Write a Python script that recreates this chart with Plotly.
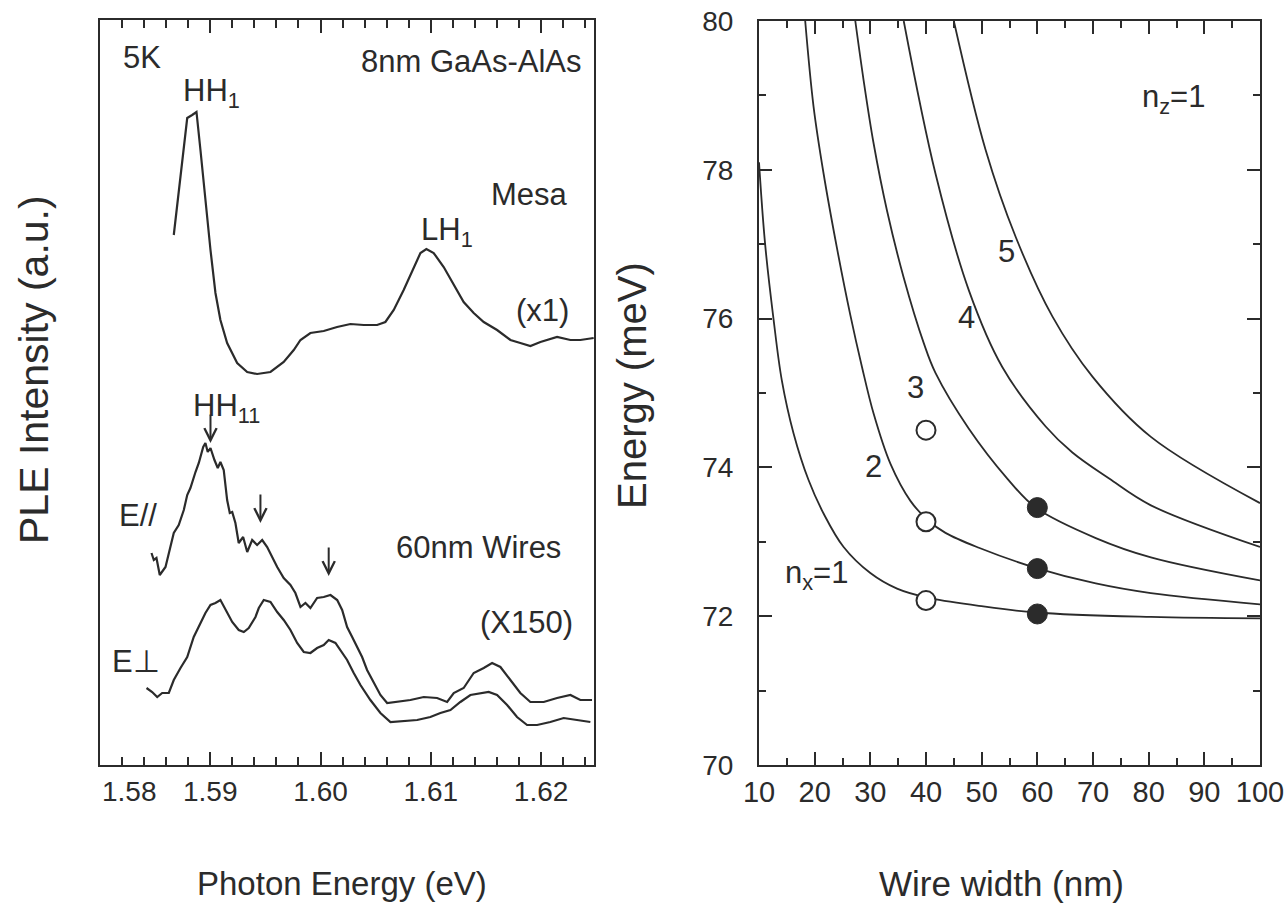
import plotly.graph_objects as go

# ---------------- Left panel: PLE spectra ----------------
mesa_e = [1.58669, 1.58730, 1.58791, 1.58836, 1.58875, 1.58911, 1.58956, 1.59002, 1.59047, 1.59092,
          1.59153, 1.59244, 1.59335, 1.59425, 1.59546, 1.59666, 1.59757, 1.59818, 1.59908, 1.60029,
          1.60150, 1.60271, 1.60392, 1.60513, 1.60588, 1.60664, 1.60754, 1.60845, 1.60906, 1.60960,
          1.61026, 1.61117, 1.61208, 1.61298, 1.61389, 1.61480, 1.61601, 1.61722, 1.61812, 1.61903,
          1.61994, 1.62145, 1.62266, 1.62356, 1.62477]
mesa_i = [5.30, 5.92, 6.47, 6.50, 6.53, 6.15, 5.65, 5.15, 4.72, 4.45,
          4.22, 4.02, 3.93, 3.91, 3.93, 4.03, 4.15, 4.25, 4.32, 4.34,
          4.38, 4.41, 4.40, 4.40, 4.43, 4.55, 4.75, 4.98, 5.12, 5.16,
          5.12, 4.98, 4.80, 4.63, 4.52, 4.43, 4.35, 4.25, 4.22, 4.19,
          4.23, 4.28, 4.25, 4.25, 4.27]

par_e = [1.58467, 1.58488, 1.58512, 1.58542, 1.58594, 1.58639, 1.58669, 1.58714, 1.58760, 1.58791,
         1.58820, 1.58866, 1.58896, 1.58936, 1.58956, 1.58977, 1.59002, 1.59038, 1.59068, 1.59092,
         1.59122, 1.59153, 1.59177, 1.59199, 1.59228, 1.59258, 1.59298, 1.59335, 1.59380, 1.59425,
         1.59471, 1.59516, 1.59561, 1.59607, 1.59666, 1.59727, 1.59772, 1.59818, 1.59863, 1.59908,
         1.59969, 1.60029, 1.60090, 1.60151, 1.60196, 1.60241, 1.60287, 1.60332, 1.60377, 1.60422,
         1.60482, 1.60543, 1.60604, 1.60695, 1.60815, 1.60936, 1.61057, 1.61148, 1.61208, 1.61298,
         1.61389, 1.61480, 1.61556, 1.61631, 1.61722, 1.61812, 1.61903, 1.62024, 1.62145, 1.62266,
         1.62356, 1.62462]
par_i = [2.12, 2.05, 2.07, 1.90, 1.98, 2.18, 2.32, 2.40, 2.55, 2.70,
         2.77, 2.93, 3.02, 3.18, 3.22, 3.13, 3.17, 3.05, 2.97, 3.03,
         2.95, 2.65, 2.52, 2.53, 2.42, 2.22, 2.28, 2.13, 2.25, 2.20,
         2.25, 2.18, 2.08, 1.98, 1.87, 1.80, 1.72, 1.58, 1.62, 1.57,
         1.67, 1.68, 1.70, 1.65, 1.55, 1.38, 1.28, 1.18, 1.08, 0.95,
         0.82, 0.70, 0.62, 0.63, 0.65, 0.68, 0.67, 0.63, 0.72, 0.77,
         0.92, 0.97, 1.02, 0.98, 0.85, 0.72, 0.63, 0.63, 0.67, 0.70,
         0.65, 0.65]

perp_e = [1.58422, 1.58473, 1.58519, 1.58564, 1.58624, 1.58669, 1.58730, 1.58791, 1.58850, 1.58911,
          1.58956, 1.59002, 1.59047, 1.59092, 1.59138, 1.59199, 1.59258, 1.59304, 1.59349, 1.59410,
          1.59440, 1.59485, 1.59546, 1.59607, 1.59666, 1.59727, 1.59788, 1.59848, 1.59908, 1.59969,
          1.60029, 1.60074, 1.60135, 1.60180, 1.60241, 1.60301, 1.60362, 1.60452, 1.60543, 1.60634,
          1.60754, 1.60876, 1.60996, 1.61087, 1.61178, 1.61268, 1.61359, 1.61450, 1.61525, 1.61601,
          1.61692, 1.61782, 1.61873, 1.61964, 1.62084, 1.62205, 1.62326, 1.62447]
perp_i = [0.77, 0.73, 0.68, 0.72, 0.72, 0.85, 0.97, 1.08, 1.28, 1.42,
          1.52, 1.60, 1.62, 1.65, 1.55, 1.43, 1.35, 1.33, 1.37, 1.48,
          1.57, 1.65, 1.63, 1.53, 1.45, 1.35, 1.22, 1.13, 1.12, 1.17,
          1.20, 1.25, 1.22, 1.15, 1.05, 0.92, 0.80, 0.65, 0.52, 0.43,
          0.44, 0.45, 0.48, 0.52, 0.55, 0.63, 0.70, 0.72, 0.73, 0.70,
          0.60, 0.48, 0.40, 0.40, 0.43, 0.47, 0.45, 0.43]

# arrow tips (photon energy, intensity)
arrow_e = [1.59002, 1.59455, 1.60074]
arrow_i = [3.22, 2.42, 1.89]

left_ticks = [1.58, 1.59, 1.60, 1.61, 1.62]
left_ticktext = ["", "1.59", "1.60", "1.61", "1.62"]

# ---------------- Right panel: subband energies ----------------
w_n1 = [10.0, 11.1, 12.6, 14.1, 16.2, 18.9, 21.6, 25.2, 30.0, 34.8, 40.2, 49.5, 59.7, 80.4, 100.0]
e_n1 = [78.1, 77.0, 76.0, 75.17, 74.46, 73.83, 73.38, 72.93, 72.58, 72.37, 72.25, 72.14, 72.05, 71.99, 71.97]

w_n2 = [18.3, 19.8, 21.6, 24.0, 26.4, 28.5, 30.6, 33.6, 37.2, 40.2, 43.5, 49.5, 59.7, 70.5, 80.4, 100.0]
e_n2 = [80.0, 78.85, 77.95, 76.95, 76.05, 75.35, 74.72, 74.05, 73.55, 73.30, 73.12, 72.92, 72.65, 72.44, 72.31, 72.16]

w_n3 = [27.3, 28.8, 30.6, 33.0, 36.0, 39.6, 41.7, 47.7, 54.6, 59.7, 70.5, 80.4, 100.0]
e_n3 = [80.0, 79.2, 78.35, 77.45, 76.55, 75.67, 75.27, 74.52, 73.85, 73.46, 73.05, 72.79, 72.48]

w_n4 = [36.0, 41.7, 47.7, 53.7, 61.5, 66.3, 72.9, 80.4, 100.0]
e_n4 = [80.0, 77.95, 76.38, 75.35, 74.55, 74.20, 73.85, 73.49, 72.93]

w_n5 = [45.0, 50.7, 56.1, 62.7, 69.9, 80.4, 100.0]
e_n5 = [80.0, 78.27, 77.10, 76.03, 75.22, 74.41, 73.52]

open_w = [40, 40, 40]
open_e = [74.50, 73.27, 72.21]
fill_w = [60, 60, 60]
fill_e = [73.46, 72.64, 72.03]

right_xticks = [10, 20, 30, 40, 50, 60, 70, 80, 90, 100]
right_yticks = [70, 72, 74, 76, 78, 80]

INK = "#2b2b2b"
FONT = "Liberation Sans, Arial, Helvetica, sans-serif"
W, H = 1287, 908

fig = go.Figure()

for xs, ys in [(mesa_e, mesa_i), (par_e, par_i), (perp_e, perp_i)]:
    fig.add_trace(go.Scatter(x=xs, y=ys, mode="lines", xaxis="x", yaxis="y",
                             line=dict(color=INK, width=2.2), hoverinfo="skip"))

for xs, ys in [(w_n1, e_n1), (w_n2, e_n2), (w_n3, e_n3), (w_n4, e_n4), (w_n5, e_n5)]:
    fig.add_trace(go.Scatter(x=xs, y=ys, mode="lines", xaxis="x2", yaxis="y2",
                             line=dict(color=INK, width=1.8, shape="spline", smoothing=1.0),
                             hoverinfo="skip"))

fig.add_trace(go.Scatter(x=open_w, y=open_e, mode="markers", xaxis="x2", yaxis="y2",
                         marker=dict(symbol="circle", size=19, color="white",
                                     line=dict(color=INK, width=2)), hoverinfo="skip"))
fig.add_trace(go.Scatter(x=fill_w, y=fill_e, mode="markers", xaxis="x2", yaxis="y2",
                         marker=dict(symbol="circle", size=20, color=INK,
                                     line=dict(color=INK, width=1)), hoverinfo="skip"))

def px(x):
    return x / W

def py(y):
    return 1 - y / H

ann = []

def label(text, x, y, xanchor="center", size=31, **kw):
    ann.append(dict(text=text, x=px(x), y=py(y), xref="paper", yref="paper",
                    xanchor=xanchor, yanchor="middle", showarrow=False,
                    font=dict(family=FONT, size=size, color=INK), **kw))

# left panel labels
label("5K", 121, 58, "left")
label("8nm GaAs-AlAs", 584, 61, "right")
label("HH<sub>1</sub>", 181, 93, "left")
label("Mesa", 529, 195)
label("LH<sub>1</sub>", 419, 232, "left")
label("(x1)", 542, 310)
label("HH<sub>11</sub>", 191, 408, "left")
label("E//", 138, 515)
label("60nm Wires", 478, 547)
label("(X150)", 526, 622)
label("E⊥", 136, 661)
label("1.58", 100, 791, "left", size=28)

# right panel labels
label("n<sub>z</sub>=1", 1140, 99, "left")
label("5", 1006, 252)
label("4", 966, 317)
label("3", 915, 387)
label("2", 873, 467)
label("n<sub>x</sub>=1", 783, 575, "left")

# axis titles
label("PLE Intensity (a.u.)", 34, 370, size=41, textangle=-90)
label("Photon Energy (eV)", 342, 883, size=33)
label("Energy (meV)", 632, 386, size=40, textangle=-90)
label("Wire width (nm)", 1001, 883, size=35)

# arrows pointing at spectral features
for e, i in zip(arrow_e, arrow_i):
    ann.append(dict(x=e, y=i, xref="x", yref="y", ax=0, ay=-30, text="",
                    showarrow=True, arrowhead=5, arrowsize=1.2, arrowwidth=2,
                    arrowcolor=INK))

axis_common = dict(showgrid=False, zeroline=False, showline=True, linecolor=INK,
                   linewidth=2.2, mirror="allticks", ticks="inside", tickcolor=INK,
                   tickwidth=2, ticklen=13, automargin=False)

fig.update_layout(
    template="none",
    width=W, height=H, autosize=False,
    margin=dict(l=0, r=0, t=0, b=0, pad=0, autoexpand=False),
    paper_bgcolor="white", plot_bgcolor="white",
    showlegend=False,
    xaxis=dict(domain=[px(100), px(594)], range=[1.58, 1.6248], anchor="y",
               tickmode="array", tickvals=left_ticks, ticktext=left_ticktext,
               ticklabelstandoff=0,
               tickfont=dict(family=FONT, size=28, color=INK),
               minor=dict(ticks="inside", ticklen=8, tickwidth=2, tickcolor=INK,
                          tick0=1.58, dtick=0.002),
               **axis_common),
    yaxis=dict(domain=[py(765), py(20)], range=[0, 7.45], anchor="x",
               showgrid=False, zeroline=False, showline=True, linecolor=INK,
               linewidth=2.2, mirror=True, ticks="", showticklabels=False,
               automargin=False),
    xaxis2=dict(domain=[px(759), px(1260)], range=[10, 100], anchor="y2",
                tickmode="array", tickvals=right_xticks, ticklabelstandoff=0,
                tickfont=dict(family=FONT, size=29, color=INK),
                minor=dict(ticks="inside", ticklen=7, tickwidth=2, tickcolor=INK,
                           tick0=10, dtick=5),
                **axis_common),
    yaxis2=dict(domain=[py(765), py(21)], range=[70, 80], anchor="x2",
                tickmode="array", tickvals=right_yticks, ticklabelstandoff=18,
                tickfont=dict(family=FONT, size=28, color=INK),
                minor=dict(ticks="inside", ticklen=7, tickwidth=2, tickcolor=INK,
                           tick0=70, dtick=1),
                **axis_common),
    annotations=ann,
)

fig.write_html("out.html")
